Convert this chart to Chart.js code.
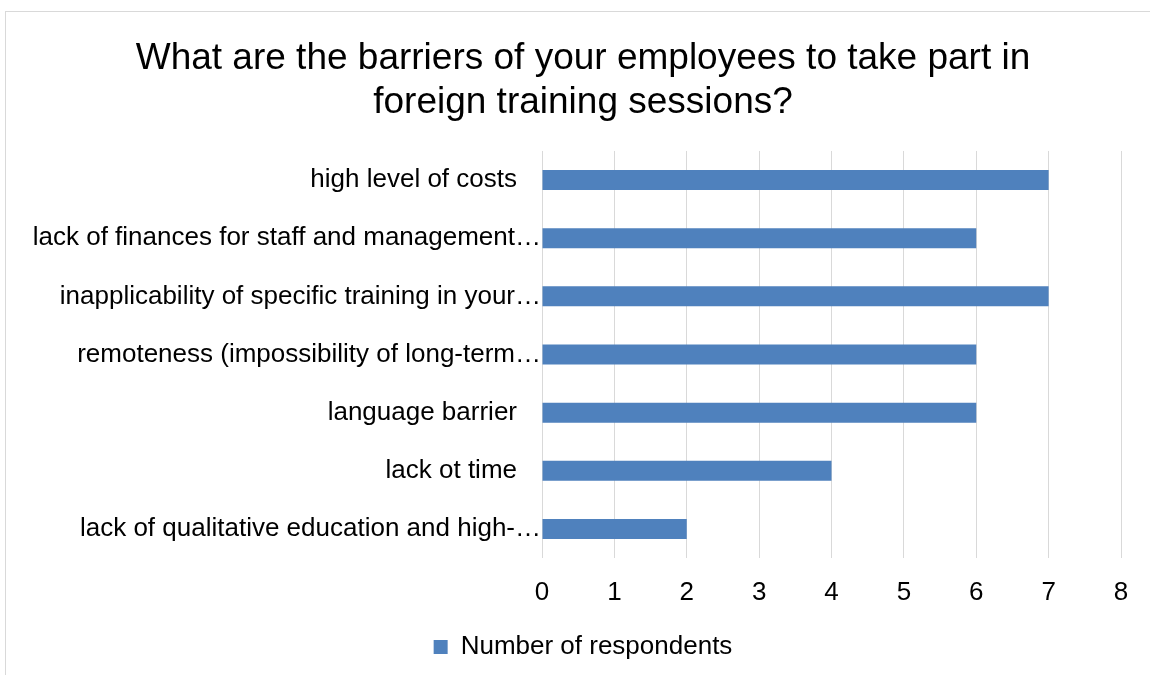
<!DOCTYPE html>
<html>
<head>
<meta charset="utf-8">
<title>Barriers to foreign training</title>
<script src="https://cdn.jsdelivr.net/npm/chart.js@4/dist/chart.umd.min.js"></script>
<style>
  html, body { margin: 0; padding: 0; background: #ffffff; }
  #wrap { width: 1150px; height: 675px; position: relative; }
</style>
</head>
<body>
<div id="wrap"><canvas id="chart" width="1150" height="675"></canvas></div>
<script>
// Chart data
const categories = [
  "high level of costs",
  "lack of finances for staff and management\u2026",
  "inapplicability of specific training in your\u2026",
  "remoteness (impossibility of long-term\u2026",
  "language barrier",
  "lack ot time",
  "lack of qualitative education and high-\u2026"
];
const respondents = [7, 6, 7, 6, 6, 4, 2];
const seriesName = "Number of respondents";
const titleLines = [
  "What are the barriers of your employees to take part in",
  "foreign training sessions?"
];
const xTicks = [0, 1, 2, 3, 4, 5, 6, 7, 8];

const FONT = "'Liberation Sans', Arial, Helvetica, sans-serif";
const LABEL_SIZE = 26;
const BAR_BLUE = "#4f81bd";
const GRID = "#d9d9d9";
const PLOT_LEFT = 542;
const LEFT_PAD = 45;

// Light frame around the chart
const framePlugin = {
  id: "frame",
  beforeDraw(chart) {
    const ctx = chart.ctx;
    ctx.save();
    ctx.strokeStyle = "#d9d9d9";
    ctx.lineWidth = 1;
    ctx.strokeRect(5.5, 11.5, chart.width + 20, chart.height + 20);
    ctx.restore();
  }
};

// Category labels: full labels sit a little off the axis, clipped ones run up to it
const categoryLabelPlugin = {
  id: "categoryLabels",
  afterDraw(chart) {
    const y = chart.scales.y;
    const ctx = chart.ctx;
    ctx.save();
    ctx.font = LABEL_SIZE + "px " + FONT;
    ctx.fillStyle = "#000000";
    ctx.textAlign = "right";
    ctx.textBaseline = "middle";
    categories.forEach((label, i) => {
      const py = y.getPixelForTick(i);
      const clipped = label.endsWith("\u2026");
      const px = y.right - (clipped ? 1 : 25);
      ctx.fillText(label, px, py);
    });
    ctx.restore();
  }
};

new Chart(document.getElementById("chart"), {
  type: "bar",
  data: {
    labels: categories,
    datasets: [{
      label: seriesName,
      data: respondents,
      backgroundColor: BAR_BLUE,
      borderWidth: 0,
      barPercentage: 0.344,
      categoryPercentage: 1.0
    }]
  },
  options: {
    indexAxis: "y",
    responsive: false,
    animation: false,
    devicePixelRatio: 1,
    layout: { padding: { left: LEFT_PAD, right: 29, top: 12, bottom: 5 } },
    scales: {
      x: {
        min: 0,
        max: 8,
        afterBuildTicks(scale) {
          scale.ticks = xTicks.map(v => ({ value: v }));
        },
        afterFit(scale) { scale.height = 66; },
        grid: { color: GRID, lineWidth: 1, drawTicks: false },
        border: { display: false },
        ticks: {
          color: "#000000",
          font: { family: FONT, size: LABEL_SIZE },
          padding: 19
        }
      },
      y: {
        afterFit(scale) { scale.width = PLOT_LEFT - LEFT_PAD; },
        grid: { display: false, drawTicks: false },
        border: { display: false },
        ticks: { display: false }
      }
    },
    plugins: {
      title: {
        display: true,
        text: titleLines,
        color: "#000000",
        font: { family: FONT, size: 37, weight: "normal", lineHeight: 1.17 },
        padding: { top: 25.4, bottom: 27 }
      },
      legend: {
        display: true,
        position: "bottom",
        labels: {
          color: "#000000",
          font: { family: FONT, size: LABEL_SIZE },
          boxWidth: 14,
          boxHeight: 14,
          padding: 10
        }
      },
      tooltip: { enabled: false }
    }
  },
  plugins: [framePlugin, categoryLabelPlugin]
});
</script>
</body>
</html>
